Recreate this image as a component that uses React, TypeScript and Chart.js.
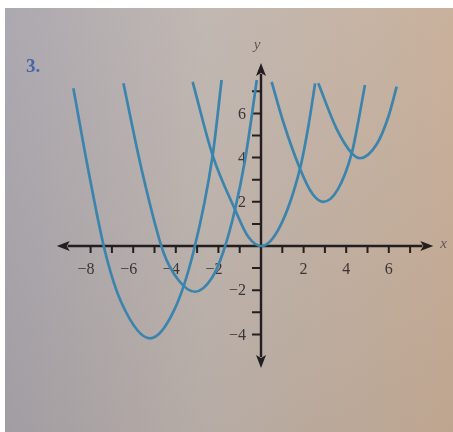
import React, { useEffect, useRef } from 'react';
import { Chart, registerables } from 'chart.js';

Chart.register(...registerables);

// ---- data (x, y in graph units) ----
const curveAX = [-8.81, -8.11, -7.32, -6.54, -5.21, -4.1, -3.17, -2.27, -1.85];
const curveAY = [7.14, 3.44, -0.26, -2.59, -4.18, -2.95, -0.26, 4.1, 7.51];

const curveBX = [-6.46, -5.6, -4.59, -3.88, -3.1, -2.31, -1.77, -1.22, -0.75, -0.44, -0.2];
const curveBY = [7.36, 3.44, -0.26, -1.54, -2.07, -1.45, -0.26, 1.65, 3.89, 5.85, 7.51];

const curveCX = [-3.21, -2.27, -1.22, -0.6, 0.02, 0.9, 1.83, 2.22, 2.54];
const curveCY = [7.43, 4.1, 1.65, 0.42, 0, 0.9, 3.5, 5.4, 7.36];

const curveDX = [0.5, 1.05, 1.83, 2.42, 2.92, 3.6, 4.26, 4.57, 4.88];
const curveDY = [7.43, 5.6, 3.5, 2.35, 2.0, 2.55, 4.2, 5.65, 7.29];

const curveEX = [2.69, 3.55, 4.26, 4.65, 5.43, 5.98, 6.37];
const curveEY = [7.36, 5.3, 4.2, 3.97, 4.6, 5.85, 7.21];

const xTickMarks = [-8, -7, -6, -5, -4, -3, -2, -1, 1, 2, 3, 4, 5, 6, 7];
const yTickMarks = [-4, -3, -2, -1, 1, 2, 3, 4, 5, 6, 7];
const xTickLabels = [-8, -6, -4, -2, 2, 4, 6];
const yTickLabels = [-4, -2, 2, 4, 6];
const xAxisRange = [-9.59, 8.09];
const yAxisRange = [-5.52, 8.28];

const problemLabel = '3.';
const xAxisTitle = 'x';
const yAxisTitle = 'y';

const CURVE_COLOR = '#3a84ad';
const AXIS_COLOR = '#231e20';
const LABEL_COLOR = '#3a3537';
const SERIF = '"Liberation Serif", "DejaVu Serif", serif';

const fmt = (v: number) => (v < 0 ? '\u2212' + Math.abs(v) : String(v));

const toPoints = (xs: number[], ys: number[]) => xs.map((x, i) => ({ x, y: ys[i] }));

const paperPlugin = {
  id: 'paper',
  beforeDraw(chart: any) {
    const { ctx, width, height } = chart;
    ctx.save();
    ctx.fillStyle = '#ffffff';
    ctx.fillRect(0, 0, width, height);
    const g = ctx.createLinearGradient(5, 0, width, 0);
    g.addColorStop(0, 'rgb(168,164,172)');
    g.addColorStop(0.45, 'rgb(190,180,174)');
    g.addColorStop(1, 'rgb(198,173,151)');
    ctx.fillStyle = g;
    ctx.fillRect(5, 8, width - 5, height - 8);
    const v = ctx.createLinearGradient(0, 8, 0, height);
    v.addColorStop(0, 'rgba(255,255,255,0.05)');
    v.addColorStop(1, 'rgba(60,40,20,0.06)');
    ctx.fillStyle = v;
    ctx.fillRect(5, 8, width - 5, height - 8);
    ctx.restore();
  },
};

const axesPlugin = {
  id: 'axesCross',
  beforeDatasetsDraw(chart: any) {
    const { ctx } = chart;
    const xs = chart.scales.x;
    const ys = chart.scales.y;
    const ox = xs.getPixelForValue(0);
    const oy = ys.getPixelForValue(0);
    const xl = xs.getPixelForValue(xAxisRange[0]);
    const xr = xs.getPixelForValue(xAxisRange[1]);
    const yt = ys.getPixelForValue(yAxisRange[1]);
    const yb = ys.getPixelForValue(yAxisRange[0]);
    const AL = 13;
    const AW = 5;
    ctx.save();
    ctx.strokeStyle = AXIS_COLOR;
    ctx.fillStyle = AXIS_COLOR;
    ctx.lineWidth = 2.4;
    ctx.beginPath();
    ctx.moveTo(xl + AL - 2, oy);
    ctx.lineTo(xr - AL + 2, oy);
    ctx.moveTo(ox, yt + AL - 2);
    ctx.lineTo(ox, yb - AL + 2);
    ctx.stroke();
    const tri = (pts: number[][]) => {
      ctx.beginPath();
      ctx.moveTo(pts[0][0], pts[0][1]);
      ctx.lineTo(pts[1][0], pts[1][1]);
      ctx.lineTo(pts[2][0], pts[2][1]);
      ctx.lineTo(pts[3][0], pts[3][1]);
      ctx.closePath();
      ctx.fill();
    };
    tri([[xr, oy], [xr - AL, oy - AW], [xr - AL + 3, oy], [xr - AL, oy + AW]]);
    tri([[xl, oy], [xl + AL, oy - AW], [xl + AL - 3, oy], [xl + AL, oy + AW]]);
    tri([[ox, yt], [ox - AW, yt + AL], [ox, yt + AL - 3], [ox + AW, yt + AL]]);
    tri([[ox, yb], [ox - AW, yb - AL], [ox, yb - AL + 3], [ox + AW, yb - AL]]);

    ctx.lineWidth = 2;
    ctx.beginPath();
    xTickMarks.forEach((t) => {
      const px = xs.getPixelForValue(t);
      ctx.moveTo(px, oy - 1);
      ctx.lineTo(px, oy + 7);
    });
    yTickMarks.forEach((t) => {
      const py = ys.getPixelForValue(t);
      ctx.moveTo(ox - 9, py);
      ctx.lineTo(ox + 1, py);
    });
    ctx.stroke();

    ctx.fillStyle = LABEL_COLOR;
    ctx.font = `16px ${SERIF}`;
    ctx.textBaseline = 'middle';
    xTickLabels.forEach((t) => {
      const px = xs.getPixelForValue(t);
      const digits = String(Math.abs(t));
      const dw = ctx.measureText(digits).width;
      ctx.textAlign = 'right';
      ctx.fillText(fmt(t), px + dw / 2, oy + 24);
    });
    yTickLabels.forEach((t) => {
      const py = ys.getPixelForValue(t);
      ctx.textAlign = 'right';
      ctx.fillText(fmt(t), ox - 15, py + 1);
    });

    ctx.fillStyle = '#5e5658';
    ctx.font = `italic 15px ${SERIF}`;
    ctx.textAlign = 'center';
    ctx.fillText(yAxisTitle, ox - 4, yt - 18);
    ctx.textAlign = 'left';
    ctx.fillText(xAxisTitle, xr + 7, oy - 2);

    ctx.fillStyle = '#4867a8';
    ctx.font = `bold 19px ${SERIF}`;
    ctx.textAlign = 'left';
    ctx.textBaseline = 'alphabetic';
    ctx.fillText(problemLabel, 26, 72);
    ctx.restore();
  },
};

export default function App() {
  const ref = useRef<HTMLCanvasElement | null>(null);

  useEffect(() => {
    document.body.style.margin = '0';
    const canvas = ref.current;
    if (!canvas) return;
    const mk = (xs: number[], ys: number[]) => ({
      data: toPoints(xs, ys),
      showLine: true,
      borderColor: CURVE_COLOR,
      backgroundColor: CURVE_COLOR,
      borderWidth: 2.7,
      pointRadius: 0,
      fill: false,
      cubicInterpolationMode: 'monotone' as const,
    });
    const chart = new Chart(canvas, {
      type: 'scatter',
      data: {
        datasets: [
          mk(curveAX, curveAY),
          mk(curveBX, curveBY),
          mk(curveCX, curveCY),
          mk(curveDX, curveDY),
          mk(curveEX, curveEY),
        ],
      },
      options: {
        animation: false,
        responsive: false,
        maintainAspectRatio: false,
        devicePixelRatio: 1,
        layout: { padding: 0 },
        scales: {
          x: { type: 'linear', min: -12.254, max: 9.014, display: false },
          y: { type: 'linear', min: -8.416, max: 11.131, display: false },
        },
        plugins: { legend: { display: false }, tooltip: { enabled: false } },
        events: [],
      },
      plugins: [paperPlugin, axesPlugin],
    });
    return () => chart.destroy();
  }, []);

  return (
    <canvas
      ref={ref}
      width={453}
      height={432}
      style={{ display: 'block', width: 453, height: 432, filter: 'blur(0.5px)' }}
    />
  );
}
